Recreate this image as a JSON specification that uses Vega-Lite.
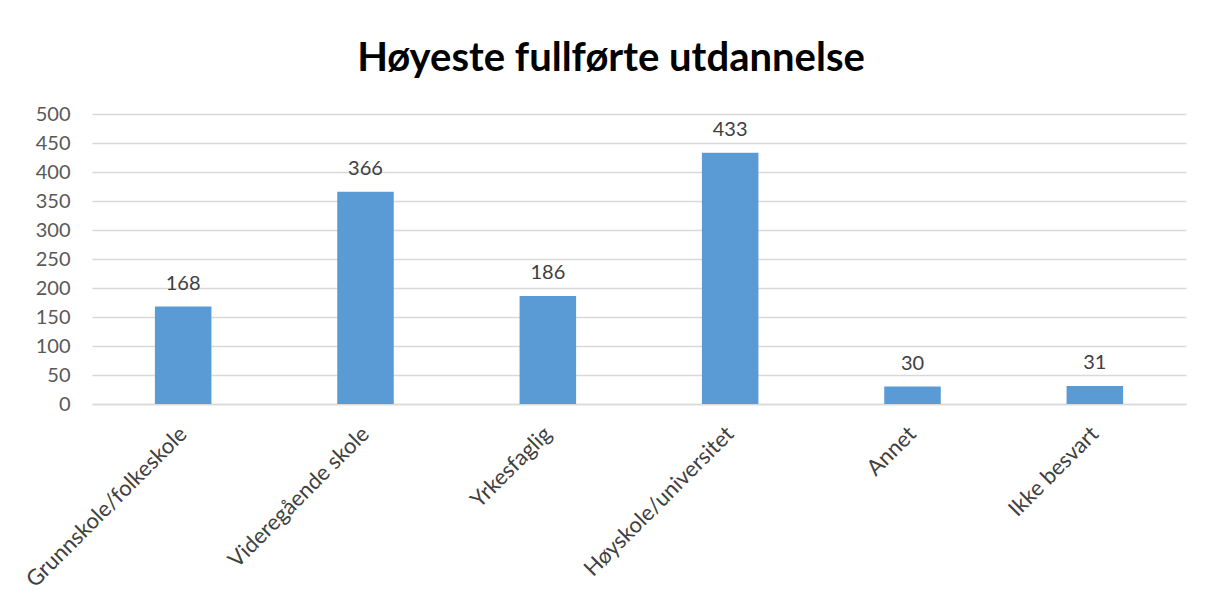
{
  "$schema": "https://vega.github.io/schema/vega-lite/v6.json",
  "width": 1094,
  "height": 290,
  "autosize": {"type": "none"},
  "padding": {"left": 92, "top": 114, "right": 26, "bottom": 200},
  "background": "white",
  "title": {
    "text": "Høyeste fullførte utdannelse",
    "font": "Lato",
    "fontSize": 40,
    "fontWeight": "bold",
    "color": "#000000",
    "anchor": "middle",
    "baseline": "alphabetic",
    "offset": 0,
    "dy": 7,
    "dx": -28
  },
  "data": {
    "values": [
      {"kategori": "Grunnskole/folkeskole", "antall": 168},
      {"kategori": "Videregående skole", "antall": 366},
      {"kategori": "Yrkesfaglig", "antall": 186},
      {"kategori": "Høyskole/universitet", "antall": 433},
      {"kategori": "Annet", "antall": 30},
      {"kategori": "Ikke besvart", "antall": 31}
    ]
  },
  "encoding": {
    "x": {
      "field": "kategori",
      "type": "nominal",
      "sort": null,
      "scale": {"paddingInner": 0.69, "paddingOuter": 0.345},
      "axis": {
        "title": null,
        "labelAngle": -45,
        "labelAlign": "right",
        "labelBaseline": "middle",
        "labelPadding": 26,
        "labelLimit": 0,
        "labelFont": "Lato",
        "labelFontSize": 22,
        "labelColor": "#404040",
        "ticks": false,
        "domainColor": "#d9d9d9",
        "domainWidth": 1.5,
        "grid": false
      }
    },
    "y": {
      "field": "antall",
      "type": "quantitative",
      "scale": {"domain": [0, 500]},
      "axis": {
        "title": null,
        "values": [0, 50, 100, 150, 200, 250, 300, 350, 400, 450, 500],
        "labelFont": "Lato",
        "labelFontSize": 20,
        "labelColor": "#595959",
        "labelPadding": 22,
        "ticks": false,
        "domain": false,
        "gridColor": "#d9d9d9",
        "gridWidth": 1.5
      }
    }
  },
  "layer": [
    {"mark": {"type": "bar", "color": "#5B9BD5"}},
    {
      "mark": {"type": "text", "font": "Lato", "fontSize": 20, "color": "#404040", "baseline": "alphabetic", "dy": -17},
      "encoding": {"text": {"field": "antall", "type": "quantitative"}}
    }
  ],
  "config": {"view": {"stroke": null}}
}
